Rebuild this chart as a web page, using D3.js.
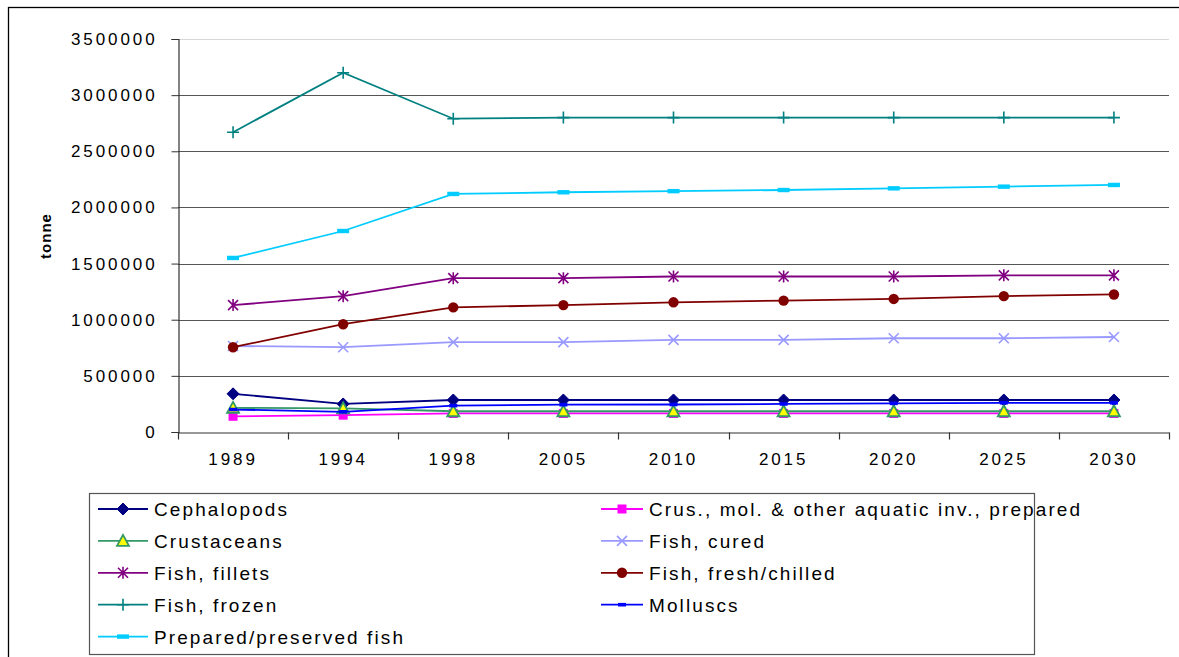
<!DOCTYPE html>
<html>
<head>
<meta charset="utf-8">
<script src="https://cdn.jsdelivr.net/npm/d3@7"></script>
<style>
  html, body { margin: 0; padding: 0; background: #fff; }
  svg { display: block; font-family: "Liberation Sans", Arial, sans-serif; }
</style>
</head>
<body>
<svg id="chart" width="1179" height="657"></svg>
<script>
// Years on the category axis
const years = ["1989", "1994", "1998", "2005", "2010", "2015", "2020", "2025", "2030"];

// Quantities in tonnes, one array per product group
const cephalopods   = [340000, 250000, 285000, 285000, 285000, 285000, 285000, 285000, 285000];
const crusMolPrep   = [140000, 150000, 165000, 165000, 165000, 165000, 165000, 165000, 165000];
const crustaceans   = [215000, 210000, 185000, 185000, 185000, 185000, 185000, 185000, 185000];
const fishCured     = [766000, 755000, 800000, 800000, 820000, 820000, 835000, 835000, 846000];
const fishFillets   = [1130000, 1210000, 1370000, 1370000, 1385000, 1385000, 1385000, 1395000, 1395000];
const fishFresh     = [755000, 960000, 1110000, 1130000, 1155000, 1170000, 1185000, 1210000, 1225000];
const fishFrozen    = [2670000, 3200000, 2790000, 2800000, 2800000, 2800000, 2800000, 2800000, 2800000];
const molluscs      = [200000, 180000, 235000, 243000, 245000, 250000, 255000, 260000, 260000];
const preparedFish  = [1550000, 1790000, 2120000, 2135000, 2145000, 2155000, 2170000, 2185000, 2200000];

// Value-axis tick labels
const yTicks = [0, 500000, 1000000, 1500000, 2000000, 2500000, 3000000, 3500000];

const seriesNames = [
  "Cephalopods",
  "Crus., mol. & other aquatic inv., prepared",
  "Crustaceans",
  "Fish, cured",
  "Fish, fillets",
  "Fish, fresh/chilled",
  "Fish, frozen",
  "Molluscs",
  "Prepared/preserved fish"
];
const seriesValues = [cephalopods, crusMolPrep, crustaceans, fishCured, fishFillets,
                      fishFresh, fishFrozen, molluscs, preparedFish];
const seriesStyle = [
  { color: "#000080", marker: "diamond" },
  { color: "#FF00FF", marker: "square" },
  { color: "#339966", marker: "triangle" },
  { color: "#9999FF", marker: "cross" },
  { color: "#800080", marker: "star" },
  { color: "#800000", marker: "circle" },
  { color: "#008080", marker: "plus" },
  { color: "#0000FF", marker: "dashSmall" },
  { color: "#00CCFF", marker: "dash" }
];

const series = seriesNames.map((name, i) => ({
  name, values: seriesValues[i], ...seriesStyle[i]
}));

const svg = d3.select("#chart");

// Outer chart border
svg.append("rect")
  .attr("x", 8.5).attr("y", 7.5)
  .attr("width", 1300).attr("height", 800)
  .attr("fill", "none").attr("stroke", "#000").attr("stroke-width", 1.3);

const plot = { left: 178, right: 1169, top: 39, bottom: 432 };

const x = d3.scaleBand().domain(years).range([plot.left, plot.right]).padding(0);
const y = d3.scaleLinear().domain([0, 3500000]).range([plot.bottom, plot.top]);

// Horizontal gridlines
svg.append("g")
  .selectAll("line")
  .data(yTicks.filter(d => d > 0))
  .join("line")
  .attr("x1", plot.left).attr("x2", plot.right)
  .attr("y1", d => Math.round(y(d)) + 0.5).attr("y2", d => Math.round(y(d)) + 0.5)
  .attr("stroke", d => d === 3500000 ? "#d8d8d8" : "#555")
  .attr("stroke-width", 1.2);

// Value axis
const yAxis = svg.append("g")
  .attr("transform", `translate(${plot.left + 0.5},0)`)
  .call(d3.axisLeft(y).tickValues(yTicks).tickSize(7).tickPadding(14).tickFormat(d3.format("d")));
yAxis.select(".domain").attr("stroke", "#333").attr("stroke-width", 1.2);
yAxis.selectAll(".tick line").attr("stroke", "#333");
yAxis.selectAll(".tick text")
  .attr("font-family", "Liberation Sans, Arial, sans-serif")
  .attr("font-size", 17).attr("fill", "#000")
  .style("letter-spacing", "2.9px");

// Category axis
const xAxis = svg.append("g")
  .attr("transform", `translate(0,${plot.bottom + 0.5})`)
  .call(d3.axisBottom(x).tickSize(0).tickPadding(20));
xAxis.select(".domain").attr("stroke", "#333").attr("stroke-width", 1.2);
xAxis.selectAll(".tick text")
  .attr("font-family", "Liberation Sans, Arial, sans-serif")
  .attr("font-size", 17).attr("fill", "#000")
  .style("letter-spacing", "2.9px");
// tick marks sit between categories
xAxis.append("g")
  .selectAll("line")
  .data(d3.range(years.length + 1))
  .join("line")
  .attr("x1", i => Math.round(plot.left + i * x.bandwidth()) + 0.5)
  .attr("x2", i => Math.round(plot.left + i * x.bandwidth()) + 0.5)
  .attr("y1", 0).attr("y2", 7)
  .attr("stroke", "#333").attr("stroke-width", 1.2);

// Axis title
svg.append("text")
  .attr("transform", "translate(51,236) rotate(-90)")
  .attr("text-anchor", "middle")
  .attr("font-weight", "bold").attr("font-size", 15)
  .style("letter-spacing", "1px")
  .text("tonne");

// Marker shapes
function drawMarker(g, type, color) {
  switch (type) {
    case "diamond":
      g.append("path").attr("d", "M0,-6L6,0L0,6L-6,0Z").attr("fill", color).attr("stroke", color);
      break;
    case "square":
      g.append("rect").attr("x", -4.5).attr("y", -4.5).attr("width", 9).attr("height", 9)
        .attr("fill", color);
      break;
    case "triangle":
      g.append("path").attr("d", "M0,-6L6,5L-6,5Z").attr("fill", "#FFFF00")
        .attr("stroke", color).attr("stroke-width", 1.8);
      break;
    case "cross":
      g.append("path").attr("d", "M-5,-5L5,5M-5,5L5,-5").attr("stroke", color).attr("stroke-width", 1.6);
      break;
    case "star":
      g.append("path").attr("d", "M-5,-5L5,5M-5,5L5,-5M0,-6L0,6").attr("stroke", color).attr("stroke-width", 1.6);
      break;
    case "circle":
      g.append("circle").attr("r", 5.2).attr("fill", color);
      break;
    case "plus":
      g.append("path").attr("d", "M-6,0L6,0M0,-6L0,6").attr("stroke", color).attr("stroke-width", 1.6);
      break;
    case "dashSmall":
      g.append("rect").attr("x", -4).attr("y", -1.8).attr("width", 8).attr("height", 3.6).attr("fill", color);
      break;
    case "dash":
      g.append("rect").attr("x", -6).attr("y", -2.2).attr("width", 12).attr("height", 4.4).attr("fill", color);
      break;
  }
}

const line = d3.line()
  .x((d, i) => x(years[i]) + x.bandwidth() / 2)
  .y(d => y(d));

const lines = svg.append("g");
series.forEach(s => {
  const g = lines.append("g");
  g.append("path")
    .attr("d", line(s.values))
    .attr("fill", "none")
    .attr("stroke", s.color)
    .attr("stroke-width", 1.8);
  s.values.forEach((v, i) => {
    const m = g.append("g")
      .attr("transform", `translate(${x(years[i]) + x.bandwidth() / 2},${y(v)})`);
    drawMarker(m, s.marker, s.color);
  });
});

// Legend
const legend = svg.append("g");
legend.append("rect")
  .attr("x", 89.5).attr("y", 493.5).attr("width", 945).attr("height", 161)
  .attr("fill", "#fff").attr("stroke", "#555").attr("stroke-width", 1.2);

series.forEach((s, i) => {
  const col = i % 2, row = Math.floor(i / 2);
  const yy = 509 + row * 31.9;
  const x0 = col === 0 ? 98 : 601;
  const x1 = col === 0 ? 148 : 643;
  const g = legend.append("g");
  g.append("line").attr("x1", x0).attr("x2", x1).attr("y1", yy).attr("y2", yy)
    .attr("stroke", s.color).attr("stroke-width", 1.8);
  const m = g.append("g").attr("transform", `translate(${(x0 + x1) / 2},${yy})`);
  drawMarker(m, s.marker, s.color);
  g.append("text")
    .attr("x", col === 0 ? 154 : 649).attr("y", yy + 7)
    .attr("font-size", 19)
    .style("letter-spacing", "2.1px")
    .text(s.name);
});
</script>
</body>
</html>
